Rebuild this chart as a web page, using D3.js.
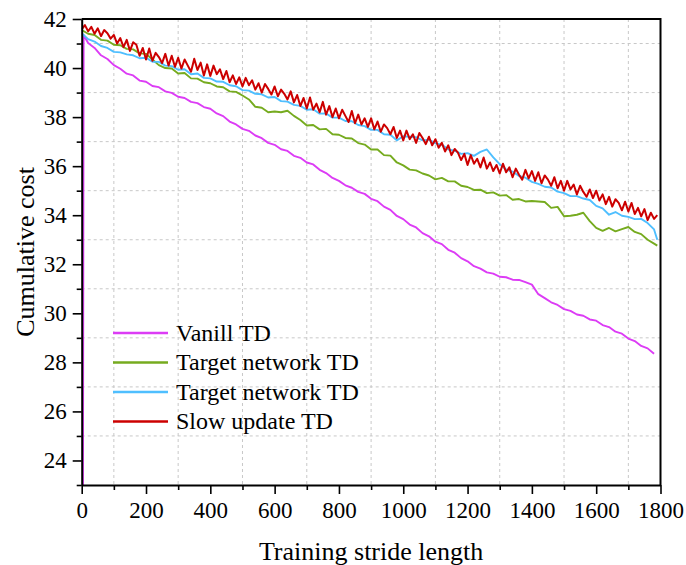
<!DOCTYPE html>
<html lang="en">
<head>
<meta charset="UTF-8">
<title>Cumulative cost</title>
<style>
    body { margin: 0; background: #fff; }
    svg { display: block; }
    svg text { font-family: "Liberation Serif", "Times New Roman", serif; }
</style>
</head>
<body>
<svg id="SVG"></svg>
<script src="https://d3js.org/d3.v7.min.js"></script>
<script>
// ---------- data ----------
var seriesNames = ["Vanill TD", "Target network TD", "Target network TD", "Slow update TD"];

var xMajorTicks = [0, 200, 400, 600, 800, 1000, 1200, 1400, 1600, 1800];
var xMinorTicks = [100, 300, 500, 700, 900, 1100, 1300, 1500, 1700];
var yMajorTicks = [24, 26, 28, 30, 32, 34, 36, 38, 40, 42];
var yMinorTicks = [23, 25, 27, 29, 31, 33, 35, 37, 39, 41];

// steps for the series
var stepsVanilla = [4, 6].concat(d3.range(20, 1800, 20));
var stepsCoarse = d3.range(0, 1800, 20).concat([1790]);
var stepsFine = d3.range(0, 1800, 10);

var vanillaTD = [
    23.0, 41.35,
    41.02, 40.82, 40.52, 40.37, 40.12, 39.97, 39.77, 39.7, 39.49, 39.44,
    39.27, 39.22, 39.05, 38.99, 38.83, 38.78, 38.62, 38.57, 38.41, 38.34,
    38.15, 38.04, 37.82, 37.7, 37.52, 37.44, 37.25, 37.14, 36.95, 36.87,
    36.69, 36.62, 36.42, 36.34, 36.15, 36.07, 35.85, 35.72, 35.52, 35.4,
    35.22, 35.12, 34.95, 34.87, 34.67, 34.57, 34.35, 34.22, 33.97, 33.84,
    33.62, 33.5, 33.27, 33.14, 32.92, 32.82, 32.59, 32.47, 32.25, 32.12,
    31.92, 31.82, 31.67, 31.62, 31.49, 31.47, 31.37, 31.36, 31.27, 31.17,
    30.78, 30.62, 30.45, 30.34, 30.17, 30.1, 29.95, 29.9, 29.75, 29.7,
    29.52, 29.44, 29.25, 29.17, 28.97, 28.87, 28.67, 28.57, 28.35
];

var targetTD1 = [
    41.55, 41.4, 41.35, 41.15, 41.12, 40.95, 40.93, 40.78, 40.76, 40.6,
    40.58, 40.35, 40.12, 40.0, 39.98, 39.78, 39.8, 39.58, 39.57, 39.42,
    39.38, 39.25, 39.22, 39.05, 39.03, 38.88, 38.72, 38.42, 38.38, 38.2,
    38.23, 38.2, 38.26, 38.05, 37.88, 37.66, 37.68, 37.5, 37.52, 37.3,
    37.28, 37.15, 37.13, 36.94, 36.88, 36.68, 36.68, 36.45, 36.43, 36.15,
    36.03, 35.86, 35.83, 35.7, 35.62, 35.46, 35.52, 35.38, 35.38, 35.2,
    35.15, 35.03, 35.04, 34.9, 34.93, 34.8, 34.82, 34.63, 34.66, 34.56,
    34.58, 34.56, 34.54, 34.3, 34.34, 33.96, 33.98, 34.02, 34.1, 33.76,
    33.48, 33.36, 33.48, 33.34, 33.43, 33.52, 33.32, 33.23, 33.0, 32.84,
    32.76
];

var targetTD2 = [
    41.42, 41.18, 41.08, 40.9, 40.82, 40.66, 40.64, 40.56, 40.52, 40.4,
    40.42, 40.26, 40.25, 40.1, 40.08, 39.93, 39.95, 39.75, 39.78, 39.6,
    39.58, 39.45, 39.44, 39.3, 39.26, 39.1, 39.08, 38.95, 38.93, 38.8,
    38.82, 38.65, 38.63, 38.5, 38.46, 38.3, 38.32, 38.14, 38.15, 37.98,
    37.98, 37.84, 37.83, 37.68, 37.63, 37.48, 37.48, 37.3, 37.28, 37.05,
    37.22, 37.2, 37.18, 37.05, 37.08, 36.93, 36.88, 36.68, 36.63, 36.5,
    36.53, 36.42, 36.58, 36.68, 36.36, 36.08, 35.86, 35.78, 35.6, 35.53,
    35.36, 35.28, 35.16, 35.13, 34.96, 34.9, 34.78, 34.78, 34.68, 34.62,
    34.38, 34.28, 34.02, 34.13, 33.98, 33.93, 33.84, 33.85, 33.68, 33.42,
    33.0
];

var slowUpdateTD = [
    41.58, 41.75, 41.5, 41.68, 41.4, 41.62, 41.3, 41.55, 41.42, 41.2,
    41.35, 41.0, 41.22, 40.85, 41.15, 40.7, 41.05, 40.95, 40.5, 40.82,
    40.35, 40.8, 40.3, 40.62, 40.45, 40.2, 40.58, 40.1, 40.5, 40.05,
    40.42, 39.98, 40.35, 40.1, 39.85, 40.38, 39.92, 40.22, 39.7, 40.15,
    39.68, 40.1, 39.75, 39.95, 39.55, 39.88, 39.42, 39.7, 39.35, 39.62,
    39.25, 39.6, 39.3, 39.5, 39.12, 39.38, 39.0, 39.35, 39.15, 38.92,
    39.25, 38.85, 39.12, 38.95, 38.72, 39.05, 38.6, 38.9, 38.45, 38.78,
    38.35, 38.8, 38.3, 38.55, 38.2, 38.62, 38.1, 38.45, 38.0, 38.35,
    37.95, 38.3, 38.05, 37.8, 38.25, 37.75, 38.1, 37.7, 37.95, 37.6,
    37.95, 37.5, 37.82, 37.4, 37.7, 37.55, 37.3, 37.6, 37.15, 37.45,
    37.05, 37.45, 37.1, 37.3, 36.95, 37.35, 37.15, 36.9, 37.2, 36.85,
    37.1, 36.75, 36.95, 36.6, 36.85, 36.45, 36.7, 36.55, 36.25, 36.5,
    36.05, 36.45, 36.1, 36.3, 35.95, 36.35, 35.9, 36.15, 35.8, 36.05,
    35.7, 36.1, 35.75, 35.95, 35.55, 35.9, 35.65, 35.45, 35.85, 35.5,
    35.8, 35.4, 35.75, 35.3, 35.62, 35.45, 35.2, 35.55, 35.1, 35.4,
    35.0, 35.4, 35.05, 35.25, 34.85, 35.2, 34.95, 34.75, 35.05, 34.7,
    35.0, 34.6, 34.85, 34.45, 34.75, 34.35, 34.65, 34.5, 34.2, 34.55,
    34.15, 34.5, 34.05, 34.3, 33.95, 34.25, 33.8, 34.1, 33.85, 34.0
];

var colors = ["#dc3cf5", "#76ab1f", "#4fbfff", "#cc0000"];

// ---------- layout ----------
var width = 686, height = 565;
var mLeft = 81.7, mRight = 660.5, mTop = 19, mBottom = 485;
var serif = "'Liberation Serif', 'Times New Roman', serif";

var svg = d3.select("#SVG").attr("width", width).attr("height", height);

var x = d3.scaleLinear().domain([0, 1800]).range([mLeft, mRight]);
var y = d3.scaleLinear().domain([23, 42]).range([mBottom, mTop]);

// dashed grid at minor positions
var grid = svg.append("g");
grid.selectAll(".gx").data(xMinorTicks).enter().append("line")
    .attr("x1", d => x(d)).attr("x2", d => x(d))
    .attr("y1", mTop).attr("y2", mBottom)
    .attr("stroke", "#c8c8c8").attr("stroke-width", 1).attr("stroke-dasharray", "3,3");
grid.selectAll(".gy").data(yMinorTicks.filter(d => d > 23)).enter().append("line")
    .attr("x1", mLeft).attr("x2", mRight)
    .attr("y1", d => y(d)).attr("y2", d => y(d))
    .attr("stroke", "#c8c8c8").attr("stroke-width", 1).attr("stroke-dasharray", "3,3");

// series
svg.append("clipPath").attr("id", "clip").append("rect")
    .attr("x", mLeft).attr("y", mTop).attr("width", mRight - mLeft).attr("height", mBottom - mTop);

var series = [
    { steps: stepsVanilla, values: vanillaTD },
    { steps: stepsCoarse, values: targetTD1 },
    { steps: stepsCoarse, values: targetTD2 },
    { steps: stepsFine, values: slowUpdateTD }
];

var line = d3.line().x(d => x(d[0])).y(d => y(d[1]));

var plot = svg.append("g").attr("clip-path", "url(#clip)");
series.forEach(function (s, i) {
    plot.append("path")
        .datum(s.steps.map((st, k) => [st, s.values[k]]))
        .attr("d", line)
        .attr("fill", "none")
        .attr("stroke", colors[i])
        .attr("stroke-width", i === 3 ? 2 : 1.9)
        .attr("stroke-linejoin", "round");
});

// frame (top/right)
svg.append("path")
    .attr("d", `M${mLeft},${mTop}H${mRight}V${mBottom}`)
    .attr("fill", "none").attr("stroke", "#000").attr("stroke-width", 2);

// axes
function styleAxis(g) {
    g.attr("font-family", serif).attr("font-size", 23);
    g.select(".domain").attr("stroke-width", 2);
    g.selectAll(".tick line").attr("stroke-width", 1.6);
    g.selectAll("text").attr("fill", "#000");
}

svg.append("g").attr("transform", `translate(0,${mBottom})`)
    .call(d3.axisBottom(x).tickValues(xMinorTicks).tickSize(5).tickFormat(""))
    .call(g => g.select(".domain").remove())
    .call(g => g.selectAll(".tick line").attr("stroke-width", 1.6));
svg.append("g").attr("transform", `translate(0,${mBottom})`)
    .call(d3.axisBottom(x).tickValues(xMajorTicks).tickSize(9).tickSizeOuter(0).tickPadding(8).tickFormat(d3.format("d")))
    .call(styleAxis);

svg.append("g").attr("transform", `translate(${mLeft},0)`)
    .call(d3.axisLeft(y).tickValues(yMinorTicks).tickSize(5).tickFormat(""))
    .call(g => g.select(".domain").remove())
    .call(g => g.selectAll(".tick line").attr("stroke-width", 1.6));
svg.append("g").attr("transform", `translate(${mLeft},0)`)
    .call(d3.axisLeft(y).tickValues(yMajorTicks).tickSize(9).tickSizeOuter(0).tickPadding(6).tickFormat(d3.format("d")))
    .call(styleAxis);

// axis titles
svg.append("text")
    .attr("x", (mLeft + mRight) / 2).attr("y", 560)
    .attr("text-anchor", "middle").attr("font-size", 26)
    .text("Training stride length");

svg.append("text")
    .attr("transform", `translate(34,${(mTop + mBottom) / 2}) rotate(-90)`)
    .attr("text-anchor", "middle").attr("font-size", 26)
    .text("Cumulative cost");

// legend
var legend = svg.append("g");
seriesNames.forEach(function (name, i) {
    var ly = 333 + i * 29.5;
    legend.append("line")
        .attr("x1", 113).attr("x2", 168).attr("y1", ly).attr("y2", ly)
        .attr("stroke", colors[i]).attr("stroke-width", 2.5);
    legend.append("text")
        .attr("x", 176).attr("y", ly).attr("dy", "0.33em")
        .attr("font-size", 24)
        .text(name);
});
</script>
</body>
</html>
